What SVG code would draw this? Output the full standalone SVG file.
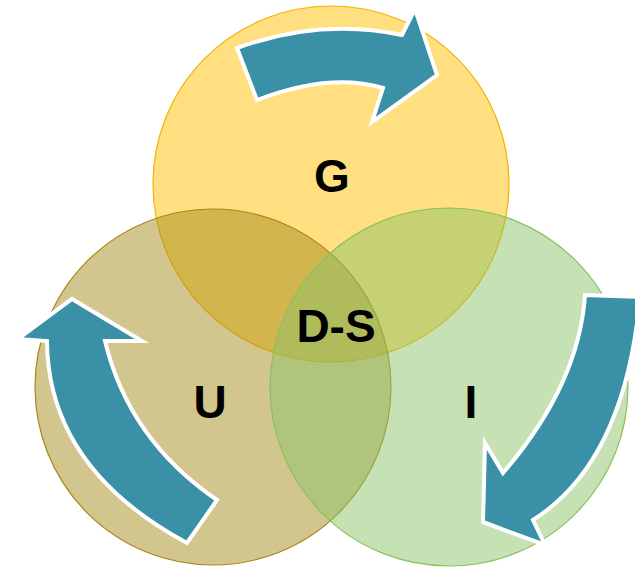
<svg xmlns="http://www.w3.org/2000/svg" width="635" height="567" viewBox="0 0 635 567">
<style>
.c{stroke-width:1.2}
.arrow{fill:#3A90A6;stroke:#FFFFFF;stroke-width:4;stroke-linejoin:miter}
.lbl{font-family:"Liberation Sans",Arial,sans-serif;font-weight:bold;font-size:46px;fill:#000;text-anchor:middle}
</style>
<rect width="635" height="567" fill="#FFFFFF"/>
<g id="circle-G"><circle class="c" cx="331" cy="184" r="178" fill="#FFC000" fill-opacity="0.5" stroke="#F0B400"/></g>
<g id="circle-U"><circle class="c" cx="213" cy="387" r="178" fill="#A88B1E" fill-opacity="0.5" stroke="#A8861A"/></g>
<g id="circle-I"><circle class="c" cx="449" cy="387" r="179" fill="#8DC36A" fill-opacity="0.5" stroke="#8CBF60"/></g>
<g id="connectors">
<path class="arrow" d="M237,48 Q320,18 402,35 L415,9 L437,75 L372,122 L383,88 Q330,72 257,100 Z"/>
<path class="arrow" d="M585,295 L640,297 Q625,462 533,520 L545,545 L483,522 L485,443 L503,473 C540,430 580,370 585,295 Z"/>
<path class="arrow" d="M187,543 Q48,468 47,341 L18,339 L72,299 L142,341 L105,341 Q129,440 217,500 Z"/>
</g>
<g id="label-G"><text class="lbl" x="332" y="192">G</text></g>
<g id="label-DS"><text class="lbl" x="336" y="342">D-S</text></g>
<g id="label-U"><text class="lbl" x="210" y="418">U</text></g>
<g id="label-I"><text class="lbl" x="471" y="418">I</text></g>
</svg>
